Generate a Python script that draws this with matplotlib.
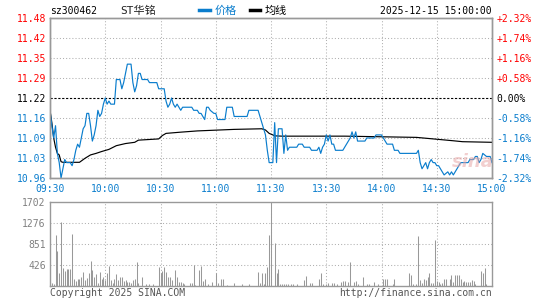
import matplotlib
matplotlib.use('Agg')
import matplotlib.pyplot as plt

# ---- data ----
prev_close = 11.22

price_min = [0, 1, 2, 3, 4, 5, 6, 7, 8, 9, 11, 12, 13, 14, 15, 16, 17, 18, 19, 20,
             21, 22, 23, 24, 25, 26, 27, 28, 29, 30, 31, 32, 33, 35, 36, 38, 39, 40, 41, 42,
             44, 45, 46, 47, 48, 49, 50, 51, 53, 54, 58, 59, 62, 63, 64, 65, 66, 67, 68, 69,
             70, 71, 72, 77, 78, 80, 81, 82, 83, 84, 85, 86, 87, 89, 90, 91, 93, 94, 95, 96,
             99, 100, 107, 108, 113, 114, 115, 116, 117, 118, 119, 121, 122, 123, 124, 126, 127, 128, 129, 130,
             134, 135, 137, 138, 141, 142, 145, 146, 147, 148, 149, 150, 151, 152, 153, 154, 155, 159, 160, 162,
             163, 164, 165, 166, 167, 171, 172, 176, 177, 180, 181, 182, 183, 186, 187, 189, 190, 194, 196, 199,
             200, 201, 202, 204, 205, 206, 207, 208, 209, 210, 211, 213, 214, 216, 217, 218, 219, 220, 221, 222,
             223, 225, 227, 228, 230, 231, 232, 233, 234, 235, 237, 238, 239, 240]
price_val = [11.18, 11.13, 11.09, 11.13, 11.04, 11.01, 10.96, 10.99, 11.02, 11.01, 11.01, 11.00, 11.02, 11.05, 11.07, 11.06, 11.09, 11.12, 11.13, 11.17,
             11.17, 11.13, 11.08, 11.10, 11.13, 11.18, 11.16, 11.17, 11.20, 11.22, 11.20, 11.21, 11.20, 11.20, 11.28, 11.28, 11.25, 11.27, 11.30, 11.33,
             11.33, 11.27, 11.24, 11.26, 11.30, 11.30, 11.28, 11.28, 11.28, 11.27, 11.27, 11.25, 11.25, 11.21, 11.19, 11.20, 11.22, 11.20, 11.19, 11.20,
             11.19, 11.18, 11.19, 11.19, 11.18, 11.18, 11.17, 11.17, 11.16, 11.15, 11.19, 11.19, 11.18, 11.17, 11.17, 11.15, 11.15, 11.15, 11.15, 11.19,
             11.19, 11.16, 11.16, 11.18, 11.18, 11.16, 11.14, 11.12, 11.10, 11.05, 11.01, 11.01, 11.14, 11.01, 11.12, 11.12, 11.04, 11.10, 11.05, 11.06,
             11.06, 11.07, 11.07, 11.06, 11.06, 11.05, 11.05, 11.06, 11.04, 11.06, 11.07, 11.10, 11.08, 11.10, 11.07, 11.07, 11.05, 11.05, 11.06, 11.08,
             11.09, 11.11, 11.09, 11.11, 11.08, 11.08, 11.09, 11.09, 11.10, 11.10, 11.09, 11.08, 11.07, 11.07, 11.05, 11.05, 11.04, 11.04, 11.04, 11.04,
             11.05, 11.01, 10.99, 11.01, 10.99, 11.01, 11.02, 11.01, 11.01, 11.00, 11.00, 10.98, 10.97, 10.98, 10.97, 10.98, 10.97, 10.98, 10.99, 11.00,
             11.01, 11.01, 11.01, 11.02, 11.02, 11.03, 11.03, 11.01, 11.02, 11.04, 11.03, 11.03, 11.03, 11.01]

avg_min = [0, 1, 2, 3, 4, 5, 6, 7, 16, 19, 22, 25, 28, 32, 36, 41, 46, 48, 59, 61,
           63, 71, 80, 100, 115, 117, 119, 121, 122, 126, 160, 199, 210, 219, 224, 240]
avg_val = [11.18, 11.14, 11.09, 11.06, 11.04, 11.035, 11.013, 11.011, 11.011, 11.024, 11.035, 11.04, 11.046, 11.053, 11.065, 11.072, 11.076, 11.083, 11.087, 11.098,
           11.105, 11.109, 11.113, 11.118, 11.12, 11.116, 11.105, 11.10, 11.097, 11.096, 11.096, 11.092, 11.086, 11.081, 11.078, 11.076]

vol_min = [0, 1, 2, 3, 4, 5, 6, 7, 8, 9, 10, 11, 12, 13, 14, 15, 16, 17, 18, 19,
           20, 21, 22, 23, 24, 25, 26, 27, 28, 29, 30, 31, 32, 33, 34, 35, 36, 37, 38, 39,
           40, 41, 42, 43, 44, 45, 46, 47, 48, 50, 52, 54, 56, 59, 60, 61, 62, 63, 64, 65,
           66, 68, 69, 70, 71, 72, 73, 76, 77, 78, 79, 81, 82, 83, 84, 86, 88, 90, 91, 93,
           94, 96, 100, 104, 108, 113, 114, 115, 116, 117, 118, 119, 120, 122, 123, 124, 125, 126, 127, 128,
           129, 131, 132, 134, 138, 139, 141, 142, 146, 147, 148, 150, 151, 153, 154, 156, 158, 159, 160, 162,
           163, 165, 166, 167, 170, 172, 173, 176, 178, 181, 182, 183, 186, 187, 195, 196, 197, 199, 200, 201,
           202, 203, 204, 205, 206, 207, 208, 209, 210, 211, 212, 213, 214, 215, 217, 218, 219, 220, 221, 222,
           223, 224, 225, 226, 227, 228, 229, 230, 231, 234, 235, 236, 237]
vol_val = [88, 54, 41, 1033, 709, 257, 1290, 371, 304, 338, 338, 338, 1053, 142, 108, 142, 142, 189, 290, 122,
           169, 270, 507, 324, 176, 243, 68, 290, 142, 189, 122, 270, 405, 122, 68, 142, 243, 122, 176, 189,
           108, 122, 88, 88, 68, 122, 142, 493, 68, 176, 41, 41, 41, 378, 270, 311, 378, 290, 189, 176,
           122, 324, 176, 88, 81, 54, 41, 68, 54, 425, 20, 324, 405, 108, 135, 41, 88, 270, 54, 135,
           135, 27, 54, 41, 41, 290, 54, 270, 41, 270, 378, 1033, 1702, 864, 257, 344, 41, 41, 41, 41,
           41, 41, 41, 41, 122, 203, 54, 54, 135, 257, 41, 41, 54, 54, 54, 41, 81, 108, 108, 88,
           486, 88, 108, 41, 176, 41, 41, 81, 41, 135, 135, 135, 41, 142, 257, 223, 41, 41, 1013, 122,
           54, 142, 122, 189, 257, 54, 54, 932, 108, 81, 41, 54, 142, 142, 142, 223, 81, 223, 223, 223,
           142, 81, 108, 81, 81, 81, 122, 108, 41, 304, 257, 371, 41]

time_ticks = [0, 30, 60, 90, 120, 150, 180, 210, 240]
time_labels = ['09:30', '10:00', '10:30', '11:00', '11:30', '13:30', '14:00', '14:30', '15:00']
price_ticks = [11.48, 11.415, 11.35, 11.285, 11.22, 11.155, 11.09, 11.025, 10.96]
price_labels = ['11.48', '11.42', '11.35', '11.29', '11.22', '11.16', '11.09', '11.03', '10.96']
pct_labels = ['+2.32%', '+1.74%', '+1.16%', '+0.58%', '0.00%', '-0.58%', '-1.16%', '-1.74%', '-2.32%']
vol_ticks = [426, 851, 1276, 1702]
vol_labels = ['426', '851', '1276', '1702']

RED = '#ff0000'
BLUE = '#0a7dcd'
GRAY = '#999999'

plt.rcParams['font.family'] = ['DejaVu Sans Mono', 'Noto Sans CJK SC']
W, H = 545, 300
fig = plt.figure(figsize=(W / 100, H / 100), dpi=100)

def fx(px):
    return px / W

def fy(py):
    return 1 - py / H

ax = fig.add_axes([fx(50), fy(178), fx(442), 160 / H])
axv = fig.add_axes([fx(50), fy(286), fx(442), 84 / H])

# price panel
for t in time_ticks[1:-1]:
    ax.axvline(t, color='#b0b0b0', lw=0.75, ls=(0, (1, 2)), zorder=1)
for p in price_ticks[1:-1]:
    if p == prev_close:
        ax.axhline(p, color='black', lw=0.8, ls=(0, (2, 1.5)), zorder=1)
    else:
        ax.axhline(p, color='#b0b0b0', lw=0.75, ls=(0, (1, 2)), zorder=1)
ax.plot(avg_min, avg_val, color='black', lw=0.85, zorder=3)
ax.plot(price_min, price_val, color=BLUE, lw=0.85, zorder=4)
ax.set_xlim(0, 240)
ax.set_ylim(price_ticks[-1], price_ticks[0])
ax.set_xticks(time_ticks)
ax.set_xticklabels(time_labels, fontsize=7, color=BLUE)
ax.set_yticks(price_ticks)
ax.set_yticklabels(price_labels, fontsize=7)
ax.tick_params(length=0, pad=3)
ax.tick_params(axis='x', pad=4)
for lab, p in zip(ax.get_yticklabels(), price_ticks):
    lab.set_color(RED if p > prev_close else ('black' if p == prev_close else BLUE))

ax2 = ax.twinx()
ax2.set_ylim(ax.get_ylim())
ax2.set_yticks(price_ticks)
ax2.set_yticklabels(pct_labels, fontsize=7)
ax2.tick_params(length=0, pad=3)
for lab, p in zip(ax2.get_yticklabels(), price_ticks):
    lab.set_color(RED if p > prev_close else ('black' if p == prev_close else BLUE))

for a in (ax, ax2, axv):
    for s in a.spines.values():
        s.set_color(GRAY)
        s.set_linewidth(1)

# volume panel
for t in time_ticks[1:-1]:
    axv.axvline(t, color='#b0b0b0', lw=0.75, ls=(0, (1, 2)), zorder=1)
for v in vol_ticks[:-1]:
    axv.axhline(v, color='#b0b0b0', lw=0.75, ls=(0, (1, 2)), zorder=1)
axv.vlines(vol_min, 0, vol_val, color='#999999', lw=0.75, zorder=3)
axv.set_xlim(0, 240)
axv.set_ylim(0, vol_ticks[-1])
axv.set_xticks([])
axv.set_yticks(vol_ticks)
axv.set_yticklabels(vol_labels, fontsize=7, color='#808080')
axv.tick_params(length=0, pad=3)

# header
fig.text(fx(50), fy(11), 'sz300462', fontsize=7, va='center', ha='left', color='black')
fig.text(fx(120), fy(11), 'ST华铭', fontsize=8, va='center', ha='left', color='#222222',
         family=['DejaVu Sans Mono', 'Noto Sans CJK SC'])
fig.lines.append(plt.Line2D([fx(199), fx(210)], [fy(10), fy(10)], transform=fig.transFigure,
                            color=BLUE, lw=2.5))
fig.text(fx(215), fy(11), '价格', fontsize=8, va='center', ha='left', color=BLUE,
         family=['Noto Sans CJK SC'])
fig.lines.append(plt.Line2D([fx(250), fx(260)], [fy(10), fy(10)], transform=fig.transFigure,
                            color='black', lw=2.5))
fig.text(fx(265), fy(11), '均线', fontsize=8, va='center', ha='left', color='black',
         family=['Noto Sans CJK SC'])
fig.text(fx(492), fy(11), '2025-12-15 15:00:00', fontsize=7, va='center', ha='right', color='black')

# footer
fig.text(fx(50), fy(293), 'Copyright 2025 SINA.COM', fontsize=7, va='center', ha='left', color='#555555')
fig.text(fx(492), fy(293), 'http://finance.sina.com.cn', fontsize=7, va='center', ha='right', color='#555555')

# watermark
fig.text(fx(473), fy(162), 'sina', fontsize=13, style='italic', weight='bold', va='center', ha='center',
         color='#e8a8a8', alpha=0.55, family='DejaVu Sans')

fig.savefig('out.png', dpi=100)
